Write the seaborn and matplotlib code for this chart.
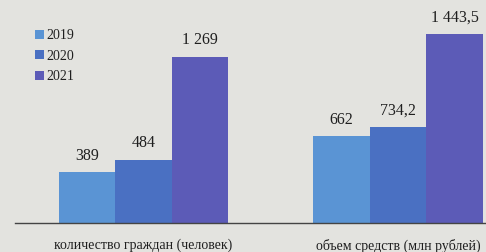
import matplotlib
matplotlib.use("Agg")
import matplotlib.pyplot as plt
import seaborn as sns
import pandas as pd

# Данные диаграммы
categories = ["количество граждан (человек)", "объем средств (млн рублей)"]
years = ["2019", "2020", "2021"]
values_2019 = [389, 662]
values_2020 = [484, 734.2]
values_2021 = [1269, 1443.5]

colors = ["#5a94d4", "#4a70c2", "#5c5bb7"]
bg = "#e3e3df"
ink = "#1f1f1f"


def fmt(v):
    # пробел как разделитель тысяч, запятая как десятичный знак
    if float(v).is_integer():
        s = f"{int(v):,}"
    else:
        s = f"{v:,.1f}"
    return s.replace(",", " ").replace(".", ",")


rows = []
for year, vals in zip(years, [values_2019, values_2020, values_2021]):
    for cat, v in zip(categories, vals):
        rows.append({"category": cat, "year": year, "value": v})
df = pd.DataFrame(rows)

sns.set_style("white")
plt.rcParams["font.family"] = ["Liberation Serif", "DejaVu Serif"]

fig = plt.figure(figsize=(4.86, 2.52), dpi=100, facecolor=bg)
ax = fig.add_axes([15 / 486, 29 / 252, 471 / 486, 223 / 252])
ax.set_facecolor(bg)

sns.barplot(data=df, x="category", y="value", hue="year", order=categories,
            hue_order=years, palette=colors, width=0.666, saturation=1,
            edgecolor="none", ax=ax)

for cont in ax.containers:
    ax.bar_label(cont, labels=[fmt(b.get_height()) for b in cont],
                 padding=6, fontsize=11.5, color=ink)

ax.set_xlim(-0.505, 1.346)
ax.set_ylim(0, 1702)
ax.set_xlabel("")
ax.set_ylabel("")
ax.set_yticks([])
ax.tick_params(axis="x", length=0, pad=11.5, labelsize=10, labelcolor=ink)
for s in ["top", "right", "left"]:
    ax.spines[s].set_visible(False)
ax.spines["bottom"].set_color("#444444")
ax.spines["bottom"].set_linewidth(1)

leg = ax.legend(loc="upper left", bbox_to_anchor=(20 / 471, 1 - 29 / 223),
                frameon=False, fontsize=10, handlelength=0.65,
                handleheight=0.6, handletextpad=0.15, labelspacing=0.55,
                borderaxespad=0, borderpad=0)
for t in leg.get_texts():
    t.set_color(ink)

fig.savefig("out.png", dpi=100, facecolor=bg)
